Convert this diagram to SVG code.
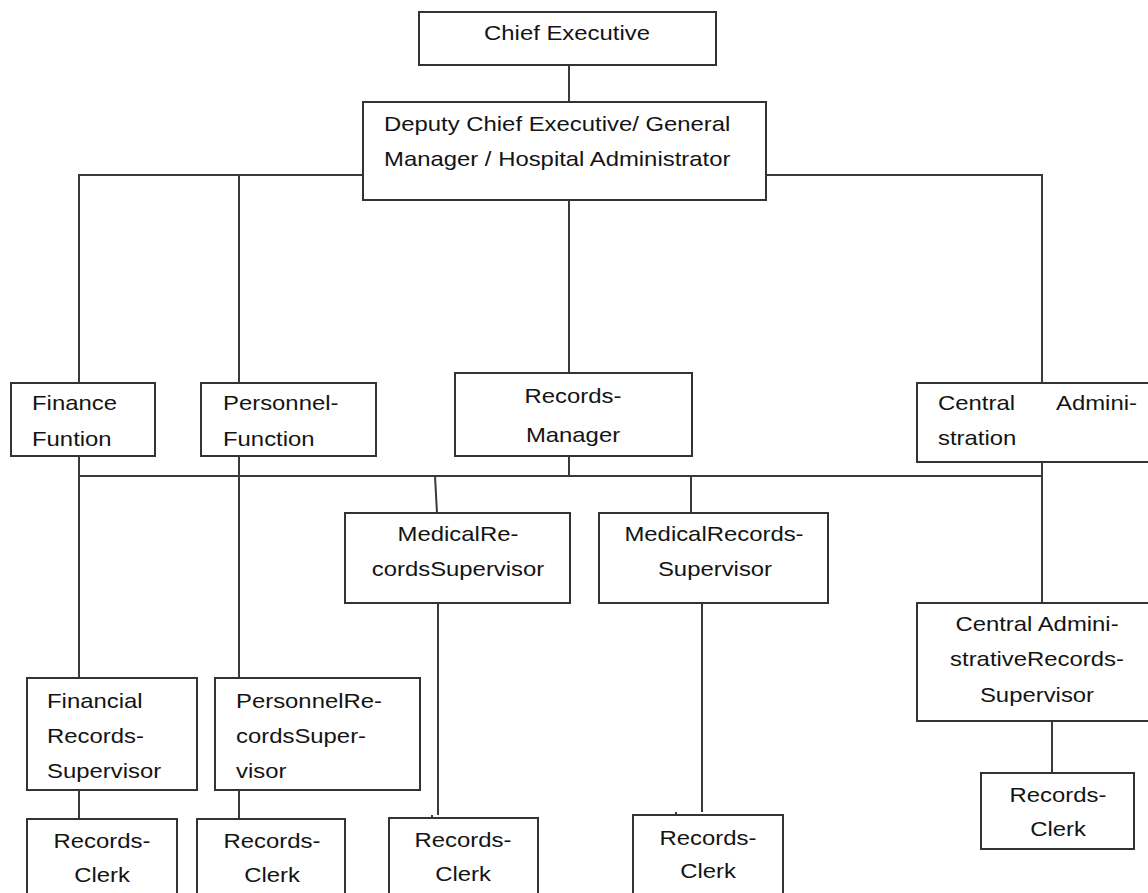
<svg xmlns="http://www.w3.org/2000/svg" width="1148" height="893" viewBox="0 0 1148 893">
  <style>
    .box { fill: #ffffff; stroke: #333333; stroke-width: 2; }
    .wire { fill: none; stroke: #3a3a3a; stroke-width: 2; }
    .lbl { font-family: "Liberation Sans", Arial, sans-serif; font-size: 20.5px; fill: #141414; }
    .c { text-anchor: middle; }
  </style>
  <rect width="1148" height="893" fill="#ffffff"/>

  <!-- connectors -->
  <g id="connectors" class="wire">
    <path d="M569 65 V102"/>
    <path d="M363 175 H79 V383"/>
    <path d="M239 175 V383"/>
    <path d="M766 175 H1042 V383"/>
    <path d="M569 200 V373"/>
    <path d="M569 456 V476"/>
    <path d="M79 476 H1042"/>
    <path d="M79 456 V678"/>
    <path d="M239 456 V678"/>
    <path d="M435 476 L437 513"/>
    <path d="M691 476 V513"/>
    <path d="M1042 462 V603"/>
    <path d="M438 603 V815"/>
    <path d="M432 815 V818"/>
    <path d="M702 603 V812"/>
    <path d="M676 812 V815"/>
    <path d="M79 790 V819"/>
    <path d="M239 790 V819"/>
    <path d="M1052 721 V773"/>
  </g>

  <!-- nodes; labels are drawn slightly wide -->
  <g id="chief-executive">
    <rect class="box" x="419" y="12" width="297" height="53"/>
    <text class="lbl c" transform="matrix(1.165 0 0 1 567 40)">Chief Executive</text>
  </g>

  <g id="deputy-chief-executive">
    <rect class="box" x="363" y="102" width="403" height="98"/>
    <text class="lbl" transform="matrix(1.165 0 0 1 384 131)">Deputy Chief Executive/ General</text>
    <text class="lbl" transform="matrix(1.165 0 0 1 384 166)">Manager / Hospital Administrator</text>
  </g>

  <g id="finance-function">
    <rect class="box" x="11" y="383" width="144" height="73"/>
    <text class="lbl" transform="matrix(1.165 0 0 1 32 410)">Finance</text>
    <text class="lbl" transform="matrix(1.165 0 0 1 32 446)">Funtion</text>
  </g>

  <g id="personnel-function">
    <rect class="box" x="201" y="383" width="175" height="73"/>
    <text class="lbl" transform="matrix(1.165 0 0 1 223 410)">Personnel-</text>
    <text class="lbl" transform="matrix(1.165 0 0 1 223 446)">Function</text>
  </g>

  <g id="records-manager">
    <rect class="box" x="455" y="373" width="237" height="83"/>
    <text class="lbl c" transform="matrix(1.165 0 0 1 573 403)">Records-</text>
    <text class="lbl c" transform="matrix(1.165 0 0 1 573 442)">Manager</text>
  </g>

  <g id="central-administration">
    <rect class="box" x="917" y="383" width="240" height="79"/>
    <text class="lbl" transform="matrix(1.165 0 0 1 938 410)">Central</text>
    <text class="lbl" transform="matrix(1.165 0 0 1 1056 410)">Admini-</text>
    <text class="lbl" transform="matrix(1.165 0 0 1 938 445)">stration</text>
  </g>

  <g id="medical-records-supervisor-1">
    <rect class="box" x="345" y="513" width="225" height="90"/>
    <text class="lbl c" transform="matrix(1.165 0 0 1 458 541)">MedicalRe-</text>
    <text class="lbl c" transform="matrix(1.165 0 0 1 458 576)">cordsSupervisor</text>
  </g>

  <g id="medical-records-supervisor-2">
    <rect class="box" x="599" y="513" width="229" height="90"/>
    <text class="lbl c" transform="matrix(1.165 0 0 1 714 541)">MedicalRecords-</text>
    <text class="lbl c" transform="matrix(1.165 0 0 1 715 576)">Supervisor</text>
  </g>

  <g id="central-admin-records-supervisor">
    <rect class="box" x="917" y="603" width="240" height="118"/>
    <text class="lbl c" transform="matrix(1.165 0 0 1 1037 631)">Central Admini-</text>
    <text class="lbl c" transform="matrix(1.165 0 0 1 1037 666)">strativeRecords-</text>
    <text class="lbl c" transform="matrix(1.165 0 0 1 1037 702)">Supervisor</text>
  </g>

  <g id="financial-records-supervisor">
    <rect class="box" x="27" y="678" width="170" height="112"/>
    <text class="lbl" transform="matrix(1.165 0 0 1 47 708)">Financial</text>
    <text class="lbl" transform="matrix(1.165 0 0 1 47 743)">Records-</text>
    <text class="lbl" transform="matrix(1.165 0 0 1 47 778)">Supervisor</text>
  </g>

  <g id="personnel-records-supervisor">
    <rect class="box" x="215" y="678" width="205" height="112"/>
    <text class="lbl" transform="matrix(1.165 0 0 1 236 708)">PersonnelRe-</text>
    <text class="lbl" transform="matrix(1.165 0 0 1 236 743)">cordsSuper-</text>
    <text class="lbl" transform="matrix(1.165 0 0 1 236 778)">visor</text>
  </g>

  <g id="records-clerk-central">
    <rect class="box" x="981" y="773" width="153" height="76"/>
    <text class="lbl c" transform="matrix(1.165 0 0 1 1058 802)">Records-</text>
    <text class="lbl c" transform="matrix(1.165 0 0 1 1058 836)">Clerk</text>
  </g>

  <g id="records-clerk-finance">
    <rect class="box" x="27" y="819" width="150" height="90"/>
    <text class="lbl c" transform="matrix(1.165 0 0 1 102 848)">Records-</text>
    <text class="lbl c" transform="matrix(1.165 0 0 1 102 882)">Clerk</text>
  </g>

  <g id="records-clerk-personnel">
    <rect class="box" x="197" y="819" width="148" height="90"/>
    <text class="lbl c" transform="matrix(1.165 0 0 1 272 848)">Records-</text>
    <text class="lbl c" transform="matrix(1.165 0 0 1 272 882)">Clerk</text>
  </g>

  <g id="records-clerk-medical-1">
    <rect class="box" x="389" y="818" width="149" height="90"/>
    <text class="lbl c" transform="matrix(1.165 0 0 1 463 847)">Records-</text>
    <text class="lbl c" transform="matrix(1.165 0 0 1 463 881)">Clerk</text>
  </g>

  <g id="records-clerk-medical-2">
    <rect class="box" x="633" y="815" width="150" height="90"/>
    <text class="lbl c" transform="matrix(1.165 0 0 1 708 845)">Records-</text>
    <text class="lbl c" transform="matrix(1.165 0 0 1 708 878)">Clerk</text>
  </g>
</svg>
